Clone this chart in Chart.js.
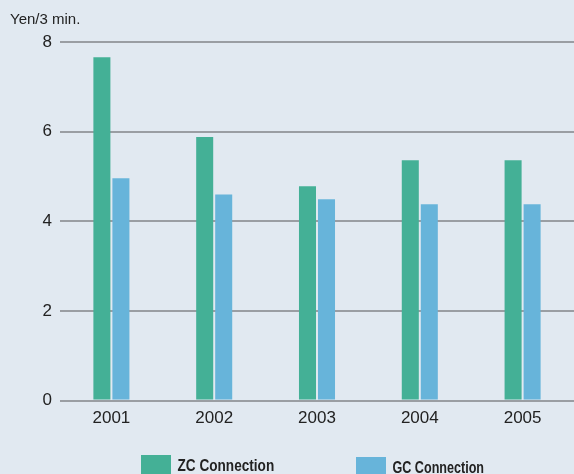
<!DOCTYPE html>
<html>
<head>
<meta charset="utf-8">
<script src="https://cdn.jsdelivr.net/npm/chart.js@4/dist/chart.umd.min.js"></script>
<style>
  html, body { margin: 0; padding: 0; background: #e1e9f1; }
  #wrap { width: 574px; height: 474px; position: relative; }
</style>
</head>
<body>
<div id="wrap"><canvas id="c" width="574" height="474"></canvas></div>
<script>
const years = ['2001', '2002', '2003', '2004', '2005'];
const zcValues = [7.66, 5.88, 4.78, 5.36, 5.36];
const gcValues = [4.96, 4.60, 4.49, 4.38, 4.38];
const yTicks = [0, 2, 4, 6, 8];
const seriesNames = ['ZC Connection', 'GC Connection'];
const unitLabel = 'Yen/3 min.';

const green = '#44b096';
const blue = '#67b4da';
const textColor = '#222222';
const gridColor = '#9a9ea3';
const baseFont = '"Liberation Sans", Arial, Helvetica, sans-serif';

const customLegend = {
  id: 'customLegend',
  afterDraw(chart) {
    const ctx = chart.ctx;
    const ca = chart.chartArea;
    const cx = (ca.left + ca.right) / 2;
    const items = [
      { name: seriesNames[0], color: green, boxX: cx - 176, boxY: 455, textY: 471, scale: 0.8 },
      { name: seriesNames[1], color: blue, boxX: cx + 39, boxY: 457, textY: 473, scale: 0.74 }
    ];
    ctx.save();
    items.forEach(it => {
      ctx.fillStyle = it.color;
      ctx.fillRect(it.boxX, it.boxY, 30, 22);
      ctx.save();
      ctx.translate(it.boxX + 36.5, it.textY);
      ctx.scale(it.scale, 1);
      ctx.font = 'bold 17px ' + baseFont;
      ctx.fillStyle = '#222222';
      ctx.textBaseline = 'alphabetic';
      ctx.textAlign = 'left';
      ctx.fillText(it.name, 0, 0);
      ctx.restore();
    });
    ctx.restore();
  }
};

new Chart(document.getElementById('c'), {
  type: 'bar',
  data: {
    labels: years,
    datasets: [
      { label: seriesNames[0], data: zcValues, backgroundColor: green, borderWidth: 0,
        categoryPercentage: 0.37, barPercentage: 0.895 },
      { label: seriesNames[1], data: gcValues, backgroundColor: blue, borderWidth: 0,
        categoryPercentage: 0.37, barPercentage: 0.895 }
    ]
  },
  options: {
    responsive: false,
    animation: false,
    layout: { padding: { left: 10, right: 0, top: 0, bottom: 45 } },
    plugins: {
      legend: { display: false },
      tooltip: { enabled: false },
      title: {
        display: true,
        text: unitLabel,
        align: 'start',
        color: '#222222',
        font: { family: baseFont, size: 15, weight: 'normal', lineHeight: 1.2 },
        padding: { top: 11, bottom: 13 }
      }
    },
    scales: {
      x: {
        grid: { display: false },
        border: { display: false },
        ticks: { color: textColor, font: { family: baseFont, size: 17 }, padding: 0 }
      },
      y: {
        min: 0, max: 8,
        afterBuildTicks(scale) { scale.ticks = yTicks.map(v => ({ value: v })); },
        afterFit(scale) { scale.width = 50; },
        grid: { color: gridColor, lineWidth: 2, drawTicks: false },
        border: { display: false },
        ticks: { color: textColor, font: { family: baseFont, size: 17 }, padding: 8 }
      }
    }
  },
  plugins: [customLegend]
});
</script>
</body>
</html>
